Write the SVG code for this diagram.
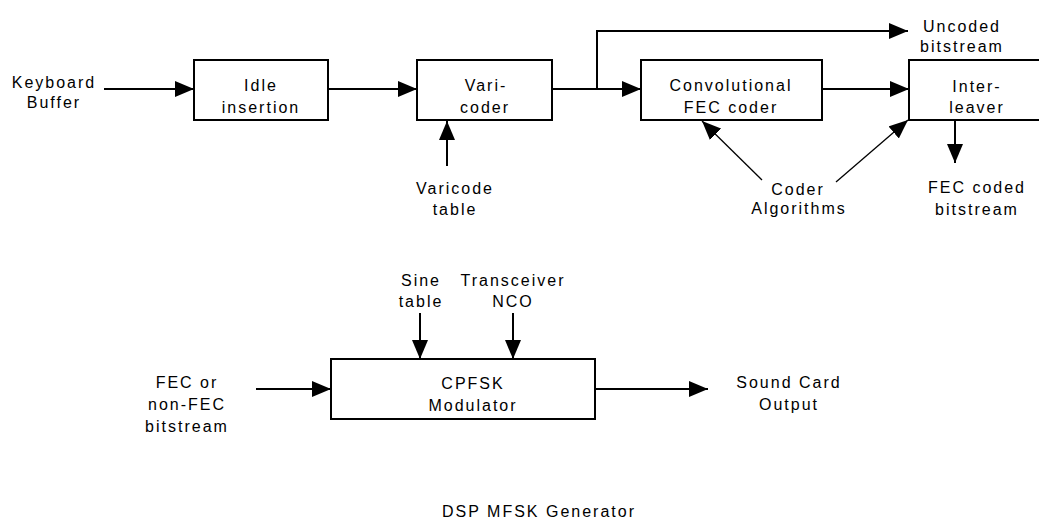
<svg xmlns="http://www.w3.org/2000/svg" width="1039" height="522" viewBox="0 0 1039 522">
<style>
text{font-family:"Liberation Sans",Arial,sans-serif;font-size:16px;letter-spacing:2px;fill:#000;text-anchor:middle}
.box{fill:#fff;stroke:#000;stroke-width:2}
.c{fill:none;stroke:#000;stroke-width:2}
.d{fill:none;stroke:#000;stroke-width:1.3}
</style>
<defs>
<marker id="ah" markerUnits="userSpaceOnUse" markerWidth="19" markerHeight="16" refX="19" refY="8" orient="auto">
<path d="M0,0 L19,8 L0,16 z" fill="#000"/>
</marker>
</defs>
<rect width="1039" height="522" fill="#fff"/>
<g id="connectors">
<line class="c" x1="104" y1="89" x2="194" y2="89" marker-end="url(#ah)"/>
<line class="c" x1="328" y1="89" x2="417" y2="89" marker-end="url(#ah)"/>
<line class="c" x1="552" y1="89" x2="641" y2="89" marker-end="url(#ah)"/>
<polyline class="c" points="597,89 597,31 908,31" marker-end="url(#ah)"/>
<line class="c" x1="822" y1="89" x2="909" y2="89" marker-end="url(#ah)"/>
<line class="c" x1="447" y1="166" x2="447" y2="121" marker-end="url(#ah)"/>
<line class="c" x1="955" y1="121" x2="955" y2="163" marker-end="url(#ah)"/>
<line class="d" x1="762" y1="180" x2="702" y2="121" marker-end="url(#ah)"/>
<line class="d" x1="836" y1="182" x2="908" y2="120" marker-end="url(#ah)"/>
<line class="c" x1="256" y1="389" x2="331" y2="389" marker-end="url(#ah)"/>
<line class="c" x1="420" y1="313" x2="420" y2="359" marker-end="url(#ah)"/>
<line class="c" x1="513" y1="313" x2="513" y2="359" marker-end="url(#ah)"/>
<line class="c" x1="595" y1="389" x2="708" y2="389" marker-end="url(#ah)"/>
</g>
<g id="keyboard"><text x="54" y="88">Keyboard</text><text x="54" y="108">Buffer</text></g>
<g id="idle"><rect class="box" x="194" y="60" width="134" height="60"/><text x="261" y="91">Idle</text><text x="261" y="113">insertion</text></g>
<g id="varicoder"><rect class="box" x="417" y="60" width="135" height="60"/><text x="486" y="91">Vari-</text><text x="485" y="113">coder</text></g>
<g id="varicode-table"><text x="455" y="194">Varicode</text><text x="455" y="215">table</text></g>
<g id="uncoded"><text x="962" y="32">Uncoded</text><text x="962" y="52">bitstream</text></g>
<g id="fec"><rect class="box" x="641" y="60" width="181" height="60"/><text x="731" y="91">Convolutional</text><text x="731" y="113">FEC coder</text></g>
<g id="interleaver"><rect class="box" x="909" y="60" width="140" height="60"/><text x="977" y="92">Inter-</text><text x="977" y="113">leaver</text></g>
<g id="coder-alg"><text x="798" y="195">Coder</text><text x="799" y="214">Algorithms</text></g>
<g id="fec-coded"><text x="977" y="193">FEC coded</text><text x="977" y="215">bitstream</text></g>
<g id="sine"><text x="421" y="286">Sine</text><text x="421" y="307">table</text></g>
<g id="nco"><text x="513" y="286">Transceiver</text><text x="513" y="307">NCO</text></g>
<g id="fec-input"><text x="187" y="388">FEC or</text><text x="187" y="410">non-FEC</text><text x="187" y="432">bitstream</text></g>
<g id="cpfsk"><rect class="box" x="331" y="359" width="264" height="60"/><text x="473" y="389">CPFSK</text><text x="473" y="411">Modulator</text></g>
<g id="sound"><text x="789" y="388">Sound Card</text><text x="789" y="410">Output</text></g>
<g id="title"><text x="539" y="517">DSP MFSK Generator</text></g>
</svg>
